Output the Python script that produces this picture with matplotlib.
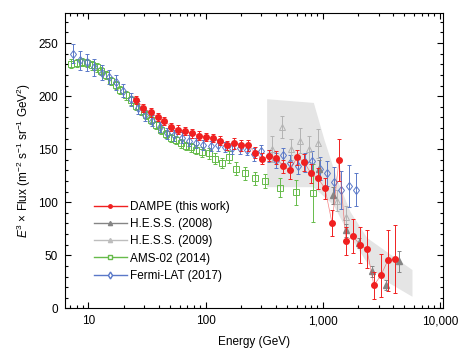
import matplotlib
matplotlib.use("Agg")
import matplotlib.pyplot as plt
from matplotlib.ticker import FixedLocator, FixedFormatter, MultipleLocator, LogLocator, NullFormatter

plt.rcParams['font.family'] = ['Liberation Sans', 'DejaVu Sans']
plt.rcParams['mathtext.fontset'] = 'custom'
plt.rcParams['mathtext.rm'] = 'Liberation Sans'
plt.rcParams['mathtext.it'] = 'Liberation Sans:italic'

# DAMPE (this work)
dampe_e = [25.7, 29.5, 33.9, 38.9, 44.6, 51.1, 58.7, 67.3, 77.2, 88.6,
           101.6, 116.5, 133.7, 153.4, 175.9, 201.8, 231.5, 265.6, 304.7, 349.5,
           400.9, 459.9, 527.6, 605.3, 694.4, 796.5, 913.8, 1048, 1202, 1379,
           1582, 1815, 2082, 2388, 2740, 3143, 3606, 4136]
dampe_f = [196.4, 188.9, 184.6, 180.4, 176.6, 171.0, 168.5, 167.0, 164.8, 162.8,
           161.6, 160.5, 158.0, 153.5, 155.4, 153.5, 153.5, 146.7, 141.0, 144.0,
           142.0, 133.8, 130.2, 142.5, 137.8, 127.1, 122.4, 113.0, 80.6, 139.6,
           63.7, 67.8, 59.9, 55.6, 21.7, 31.1, 45.3, 46.1]
dampe_err = [4, 4, 4, 4, 4, 4, 4, 4, 4, 4,
             4, 4, 4, 4, 5, 5, 5, 5, 5, 5,
             6, 6, 8, 7, 8, 9, 10, 10, 12, 20,
             13, 16, 17, 18, 13, 20, 29, 32]

# H.E.S.S. (2008)
hess08_e = [928, 1227, 1592, 2056, 2657, 3452, 4486]
hess08_f = [131.8, 106.7, 73.7, 61.7, 35.0, 21.9, 44.2]
hess08_err = [8, 8, 6, 5, 5, 5, 10]

# H.E.S.S. (2009)
hess09_e = [370.7, 451.1, 538.7, 638.3, 757.5, 917, 1315, 1570]
hess09_f = [150, 171, 150, 158, 150, 155.4, 101.5, 86.5]
hess09_err = [12, 10, 10, 12, 12, 14, 10, 10]

# AMS-02 (2014)
ams_e = [7.15, 8.01, 8.83, 9.75, 10.76, 11.87, 12.92, 14.26, 15.73, 17.26,
         18.78, 20.73, 22.87, 25.24, 27.85, 30.73, 33.91, 37.42, 41.29, 45.57,
         50.29, 55.49, 61.24, 67.58, 74.57, 82.29, 93.33, 106.3, 121.3, 138.4,
         157.6, 183.4, 216.9, 262.6, 324.9, 430.5, 594.6, 827.9]
ams_f = [230.7, 231.3, 232.2, 231.3, 229.1, 227.0, 223.7, 219.7, 214.3, 210.3,
         205.6, 200.8, 196.1, 190.8, 186.0, 182.0, 177.3, 172.6, 168.5, 164.1,
         160.6, 158.5, 155.4, 152.8, 151.6, 149.5, 147.5, 146.0, 141.2, 137.1,
         142.7, 131.8, 127.1, 122.4, 120.0, 113.8, 109.2, 108.6]
ams_err = [4, 4, 4, 4, 4, 4, 4, 4, 4, 4,
           4, 4, 4, 4, 4, 4, 4, 4, 4, 4,
           4, 4, 4, 4, 4, 4, 5, 5, 5, 5,
           6, 6, 6, 6, 7, 9, 12, 27]

# Fermi-LAT (2017)
fermi_e = [7.32, 8.45, 9.75, 11.24, 12.97, 14.96, 17.26, 19.91, 22.96, 26.49,
           30.55, 35.24, 40.65, 46.90, 54.10, 62.40, 71.97, 83.02, 95.77, 110.5,
           127.4, 147.0, 169.5, 195.6, 225.6, 260.2, 300.2, 346.2, 399.4, 460.7,
           531.4, 613.0, 707.1, 815.7, 940.9, 1085, 1252, 1444, 1666, 1921]
fermi_f = [240, 234, 232, 227, 222, 218, 213, 205, 197, 189,
           182, 177, 171, 165, 163, 161, 158, 156, 154, 153,
           153.5, 152, 150.7, 150.7, 149.7, 145.3, 148.2, 143.7, 139.5, 144.4,
           136.6, 134.4, 137.5, 138.6, 131.8, 127.1, 119.2, 111.4, 115.4, 112]
fermi_err = [9, 9, 8, 8, 7, 7, 7, 6, 6, 6,
             5, 5, 5, 5, 5, 5, 5, 5, 5, 5,
             5, 5, 5, 5, 5, 6, 6, 6, 7, 7,
             8, 8, 9, 10, 11, 12, 14, 18, 20, 16]

# H.E.S.S. systematic band
band_e = [335.7, 841, 1038, 1340, 1732, 2407, 5848]
band_hi = [197.1, 193.6, 158.5, 120.8, 90.7, 66.2, 36.1]
band_lo_e = [335.7, 836, 1240, 1732, 2407, 3334, 5848]
band_lo = [114.2, 114.2, 97.3, 67.1, 42.7, 26.7, 10.9]


fig = plt.figure(figsize=(4.74, 3.52), dpi=100)
ax = fig.add_axes([0.137, 0.124, 0.798, 0.838])

poly_x = band_e + band_lo_e[::-1]
poly_y = band_hi + band_lo[::-1]
ax.fill(poly_x, poly_y, color='#e5e5e5', lw=0, zorder=1)

ekw = dict(elinewidth=0.7, capsize=1.5, capthick=0.7, lw=0.7)

ax.errorbar(ams_e, ams_f, yerr=ams_err, fmt='s', ms=4, mfc='none', mew=0.7,
            color='#66bb4a', zorder=3, **ekw)
ax.errorbar(fermi_e, fermi_f, yerr=fermi_err, fmt='d', ms=4.5, mfc='none', mew=0.7,
            color='#5a78c8', zorder=4, **ekw)
ax.errorbar(hess09_e, hess09_f, yerr=hess09_err, fmt='^', ms=4.5, mfc='none', mew=0.7,
            color='#b3b3b3', zorder=4, **ekw)
ax.errorbar(hess08_e, hess08_f, yerr=hess08_err, fmt='^', ms=4.5, color='#858585',
            zorder=4, **ekw)
ax.plot(dampe_e, dampe_f, '-', color='#f03030', lw=0.5, alpha=0.6, zorder=5)
ax.errorbar(dampe_e, dampe_f, yerr=dampe_err, fmt='o', ms=4, color='#f02020',
            zorder=6, **ekw)

# legend handles
h1, = ax.plot([], [], '-o', color='#f02020', ms=2.5, lw=1)
h2, = ax.plot([], [], '-^', color='#858585', ms=3, lw=1)
h3, = ax.plot([], [], '-^', color='#bdbdbd', ms=3, lw=1)
h4, = ax.plot([], [], '-s', color='#66bb4a', ms=3.5, mfc='white', lw=1)
h5, = ax.plot([], [], '-d', color='#5a78c8', ms=3.5, mfc='white', lw=1)
ax.legend([h1, h2, h3, h4, h5],
          ['DAMPE (this work)', 'H.E.S.S. (2008)', 'H.E.S.S. (2009)',
           'AMS-02 (2014)', 'Fermi-LAT (2017)'],
          loc='upper left', bbox_to_anchor=(0.06, 0.385), frameon=False,
          fontsize=8.5, handlelength=2.8, handletextpad=0.3, labelspacing=0.45,
          borderpad=0)

ax.set_xscale('log')
ax.set_xlim(6.3, 10700)
ax.set_ylim(0, 278)
ax.xaxis.set_major_locator(FixedLocator([10, 100, 1000, 10000]))
ax.xaxis.set_major_formatter(FixedFormatter(['10', '100', '1,000', '10,000']))
ax.xaxis.set_minor_locator(LogLocator(base=10, subs=range(2, 10)))
ax.xaxis.set_minor_formatter(NullFormatter())
ax.yaxis.set_major_locator(MultipleLocator(50))
ax.yaxis.set_minor_locator(MultipleLocator(10))

ax.tick_params(which='both', direction='in', top=True, right=True, labelsize=8.5,
               width=0.8)
ax.tick_params(which='major', length=4, pad=5)
ax.tick_params(which='minor', length=2.5)
for s in ax.spines.values():
    s.set_linewidth(0.8)

ax.set_xlabel('Energy (GeV)', fontsize=8.5, labelpad=6)
ax.set_ylabel('$E^3$ × Flux (m$^{-2}$ s$^{-1}$ sr$^{-1}$ GeV$^2$)', fontsize=8.5,
              labelpad=4)

fig.savefig('out.png', dpi=100)
